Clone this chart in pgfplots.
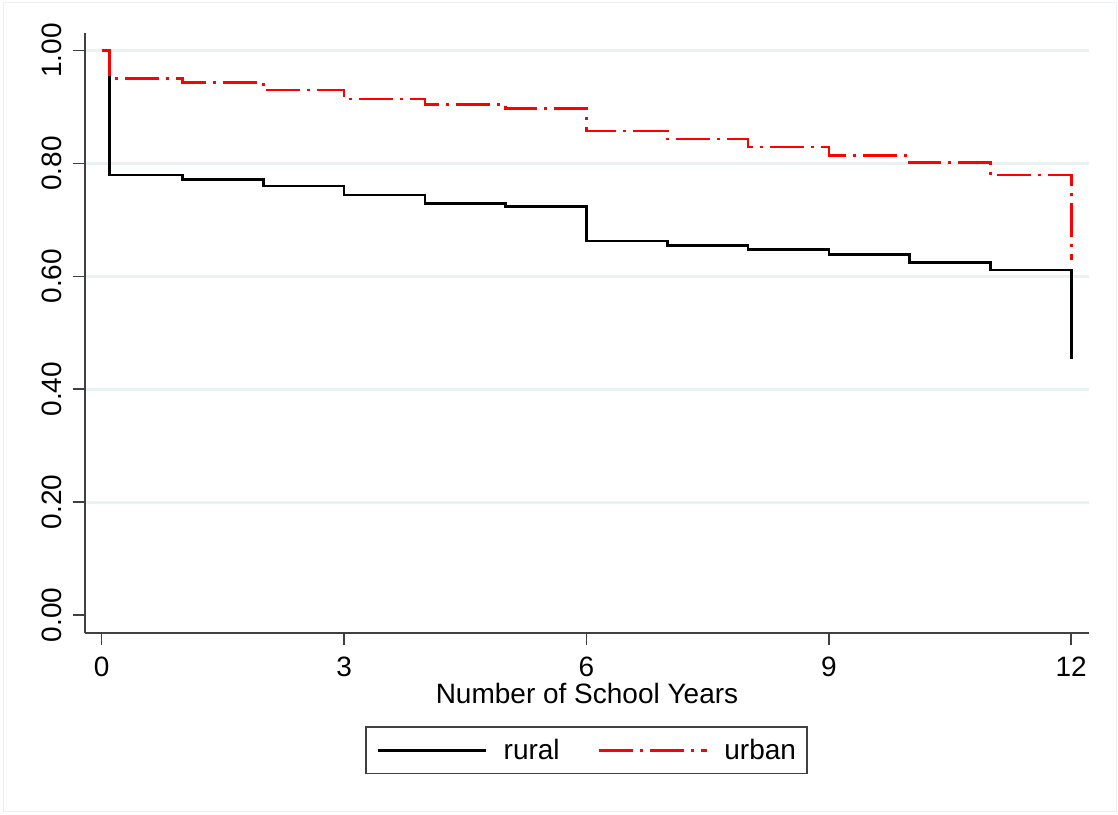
\documentclass[border=0pt]{standalone}
\usepackage{fontspec}
\setmainfont{Liberation Sans}
\usepackage{pgfplots}
\pgfplotsset{compat=1.18}
\definecolor{gridc}{RGB}{234,241,243}
\definecolor{axc}{RGB}{64,64,64}
\definecolor{frc}{RGB}{236,239,241}
\begin{document}
\begin{tikzpicture}[font=\fontsize{28}{33}\selectfont]
\useasboundingbox (0pt,0pt) rectangle (1118pt,814pt);
\draw[frc, line width=1pt] (3pt,3pt) rectangle (1116pt,811pt);
\begin{axis}[
  at={(85pt,181pt)}, anchor=south west,
  scale only axis, width=1004pt, height=600pt,
  xmin=-0.207, xmax=12.22, ymin=-0.032, ymax=1.031,
  axis x line*=bottom, axis y line*=left,
  axis line style={draw=axc, line width=1.5pt, -},
  tick align=outside, major tick length=12pt,
  tick style={draw=axc, line width=1.5pt},
  xtick={0,3,6,9,12}, xticklabels={0,3,6,9,12},
  ytick={0.2,0.4,0.6,0.8,1.0}, yticklabels={0.20,0.40,0.60,0.80,1.00},
  extra y ticks={0}, extra y tick labels={0.00},
  extra y tick style={ymajorgrids=false},
  ymajorgrids, grid style={draw=gridc, line width=3pt},
  xticklabel style={anchor=north, inner sep=0pt, yshift=-12pt},
  yticklabel style={rotate=90, anchor=south, inner sep=0pt, yshift=11pt},
  xlabel={Number of School Years},
  xlabel style={at={(axis description cs:0.5,-0.117)}, anchor=base, inner sep=0pt},
  legend columns=2,
  legend style={at={(axis description cs:0.4995,-0.1958)}, anchor=center,
    draw=axc, line width=1.2pt, inner xsep=11pt, inner ysep=12.5pt,
    nodes={inner sep=0pt},
    /tikz/every odd column/.append style={column sep=16pt},
    /tikz/every even column/.append style={column sep=38pt}},
  legend image code/.code={\draw[#1] (0pt,0pt) -- (108pt,0pt);},
  clip=false,
]
\addplot[const plot, black, line width=2.7pt] coordinates {
(0,1.0) (0.1,0.7795) (1,0.771) (2,0.760) (3,0.744) (4,0.729) (5,0.723)
(6,0.6625) (7,0.655) (8,0.648) (9,0.638) (10,0.624) (11,0.611) (12,0.4527)};
\addlegendentry{rural}
\addplot[const plot, red, line width=2.7pt, dash pattern=on 34pt off 7pt on 3pt off 7pt] coordinates {
(0,1.0) (0.1,0.950) (1,0.943) (2,0.930) (3,0.914) (4,0.904) (5,0.897)
(6,0.8576) (7,0.843) (8,0.829) (9,0.8135) (10,0.801) (11,0.7795) (12,0.629)};
\addlegendentry{urban}
\end{axis}
\end{tikzpicture}
\end{document}
